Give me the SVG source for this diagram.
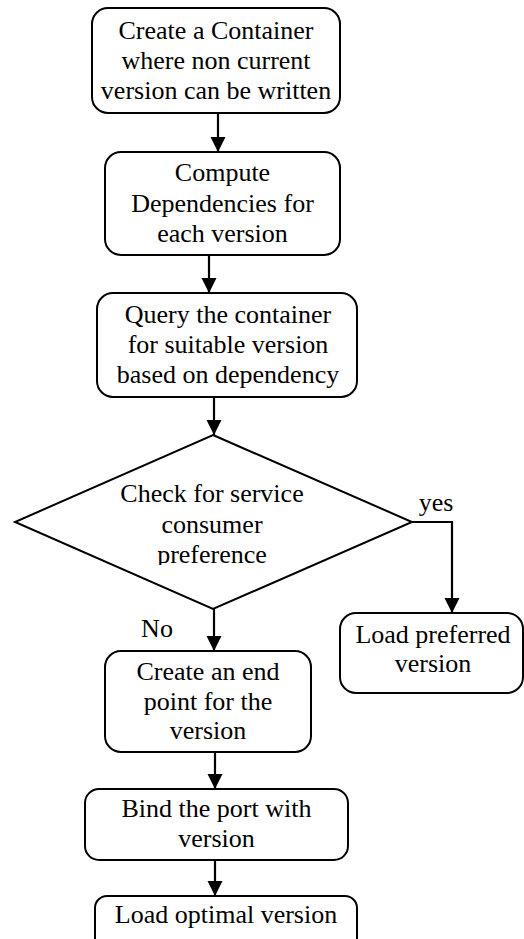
<svg xmlns="http://www.w3.org/2000/svg" width="524" height="939" viewBox="0 0 524 939">
  <defs>
    <marker id="arrow" markerUnits="userSpaceOnUse" markerWidth="16" markerHeight="16" refX="15" refY="7.5" orient="auto">
      <path d="M0,0 L15,7.5 L0,15 z" fill="#000"/>
    </marker>
    <clipPath id="decisionClip">
      <rect x="0" y="430" width="524" height="135"/>
    </clipPath>
  </defs>
  <rect width="524" height="939" fill="#fff"/>

  <!-- flow connectors -->
  <g id="connectors" fill="none" stroke="#000" stroke-width="2.2">
    <path d="M218,113 V152" marker-end="url(#arrow)"/>
    <path d="M209,255 V293" marker-end="url(#arrow)"/>
    <path d="M214,397 V435" marker-end="url(#arrow)"/>
    <path d="M412,522 H452 V613" marker-end="url(#arrow)"/>
    <path d="M214,609 V651" marker-end="url(#arrow)"/>
    <path d="M215,752 V789" marker-end="url(#arrow)"/>
    <path d="M215,860 V896" marker-end="url(#arrow)"/>
  </g>

  <g id="create-container">
    <rect x="92" y="8" width="248" height="105" rx="16" fill="#fff" stroke="#000" stroke-width="2"/>
    <text x="216" y="39" font-family="Liberation Serif" font-size="26" text-anchor="middle">Create a Container</text>
    <text x="216" y="69" font-family="Liberation Serif" font-size="26" text-anchor="middle">where non current</text>
    <text x="216" y="99" font-family="Liberation Serif" font-size="26" text-anchor="middle">version can be written</text>
  </g>

  <g id="compute-dependencies">
    <rect x="105" y="152" width="235" height="103" rx="16" fill="#fff" stroke="#000" stroke-width="2"/>
    <text x="222.5" y="181" font-family="Liberation Serif" font-size="26" text-anchor="middle">Compute</text>
    <text x="222.5" y="212" font-family="Liberation Serif" font-size="26" text-anchor="middle">Dependencies for</text>
    <text x="222.5" y="242" font-family="Liberation Serif" font-size="26" text-anchor="middle">each version</text>
  </g>

  <g id="query-container">
    <rect x="97" y="293" width="260" height="104" rx="16" fill="#fff" stroke="#000" stroke-width="2"/>
    <text x="228" y="323" font-family="Liberation Serif" font-size="26" text-anchor="middle">Query the container</text>
    <text x="228" y="353" font-family="Liberation Serif" font-size="26" text-anchor="middle">for suitable version</text>
    <text x="228" y="383" font-family="Liberation Serif" font-size="26" text-anchor="middle">based on dependency</text>
  </g>

  <g id="check-preference">
    <polygon points="213,435 412,522 213,609 15,522" fill="#fff" stroke="#000" stroke-width="2"/>
    <g clip-path="url(#decisionClip)">
      <text x="212" y="502" font-family="Liberation Serif" font-size="26" text-anchor="middle">Check for service</text>
      <text x="212" y="533" font-family="Liberation Serif" font-size="26" text-anchor="middle">consumer</text>
      <text x="212" y="563" font-family="Liberation Serif" font-size="26" text-anchor="middle">preference</text>
    </g>
  </g>

  <g id="edge-labels">
    <text x="436" y="511" font-family="Liberation Serif" font-size="26" text-anchor="middle">yes</text>
    <text x="157" y="637" font-family="Liberation Serif" font-size="26" text-anchor="middle">No</text>
  </g>

  <g id="load-preferred">
    <rect x="340" y="613" width="183" height="80" rx="16" fill="#fff" stroke="#000" stroke-width="2"/>
    <text x="433" y="643" font-family="Liberation Serif" font-size="26" text-anchor="middle">Load preferred</text>
    <text x="433" y="672" font-family="Liberation Serif" font-size="26" text-anchor="middle">version</text>
  </g>

  <g id="create-endpoint">
    <rect x="105" y="651" width="206" height="101" rx="16" fill="#fff" stroke="#000" stroke-width="2"/>
    <text x="208" y="680" font-family="Liberation Serif" font-size="26" text-anchor="middle">Create an end</text>
    <text x="208" y="710" font-family="Liberation Serif" font-size="26" text-anchor="middle">point for the</text>
    <text x="208" y="739" font-family="Liberation Serif" font-size="26" text-anchor="middle">version</text>
  </g>

  <g id="bind-port">
    <rect x="85" y="789" width="263" height="71" rx="14" fill="#fff" stroke="#000" stroke-width="2"/>
    <text x="216.5" y="817" font-family="Liberation Serif" font-size="26" text-anchor="middle">Bind the port with</text>
    <text x="216.5" y="847" font-family="Liberation Serif" font-size="26" text-anchor="middle">version</text>
  </g>

  <g id="load-optimal">
    <rect x="95" y="896" width="262" height="60" rx="12" fill="#fff" stroke="#000" stroke-width="2"/>
    <text x="226" y="923" font-family="Liberation Serif" font-size="26" text-anchor="middle">Load optimal version</text>
  </g>
</svg>
